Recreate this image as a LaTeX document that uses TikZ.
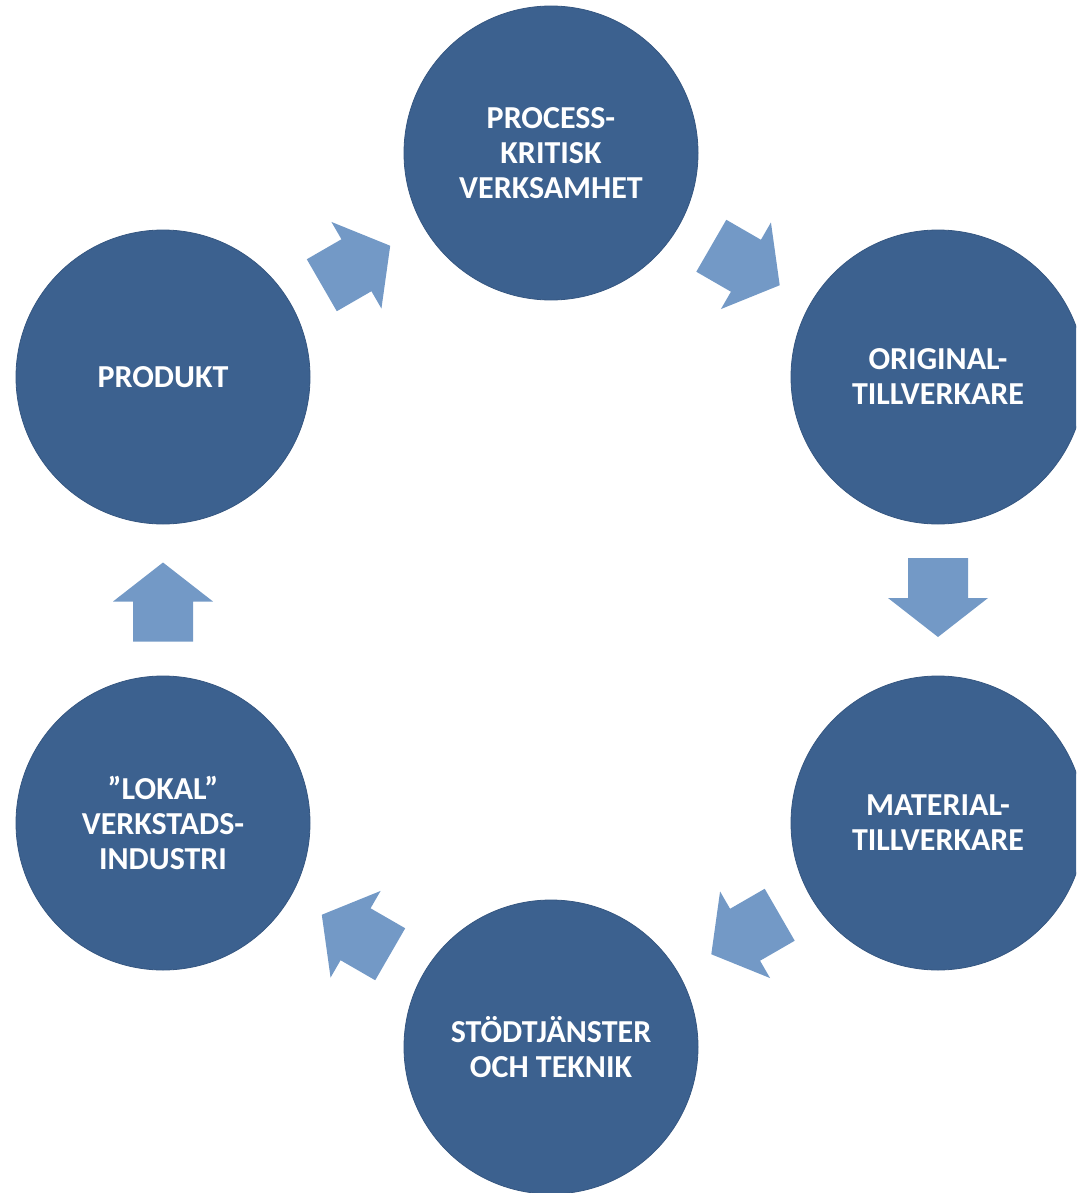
\documentclass[tikz,border=0pt]{standalone}
\usepackage{fontspec}
\setmainfont{Carlito}
\definecolor{circblue}{RGB}{60,97,143}
\definecolor{arrblue}{RGB}{115,153,198}
\tikzset{
  x=1pt, y=-1pt,
  circ/.style={circle, fill=circblue, draw=circblue!90!black, line width=0.8pt,
    minimum size=294pt, inner sep=0pt, text=white, align=center,
    font=\fontsize{32}{35}\selectfont\bfseries},
  blockarrow/.style={fill=arrblue}
}
\newcommand\cyclearrow[3]{%
  \begin{scope}[shift={(#1,#2)}, rotate=#3]
    \fill[blockarrow] (-39.5,-30) -- (0.5,-30) -- (0.5,-50) -- (39.5,0)
      -- (0.5,50) -- (0.5,30) -- (-39.5,30) -- cycle;
  \end{scope}}
\begin{document}
\begin{tikzpicture}
\useasboundingbox (0,0) rectangle (1076,1193);
\clip (0,0) rectangle (1076,1193);
\node[circ] (proc) at (551,153) {PROCESS-\\KRITISK\\VERKSAMHET};
\node[circ] (orig) at (938,377) {ORIGINAL-\\TILLVERKARE};
\node[circ] (mat) at (938,823) {MATERIAL-\\TILLVERKARE};
\node[circ] (stod) at (551,1047) {STÖDTJÄNSTER\\OCH TEKNIK};
\node[circ] (lokal) at (163,823) {”LOKAL”\\VERKSTADS-\\INDUSTRI};
\node[circ] (prod) at (163,377) {PRODUKT};
\cyclearrow{356}{265.5}{30}
\cyclearrow{745.5}{265.5}{-30}
\cyclearrow{938}{597.5}{-90}
\cyclearrow{745.5}{934.5}{-150}
\cyclearrow{356}{934.5}{150}
\cyclearrow{163}{602}{90}
\end{tikzpicture}
\end{document}
